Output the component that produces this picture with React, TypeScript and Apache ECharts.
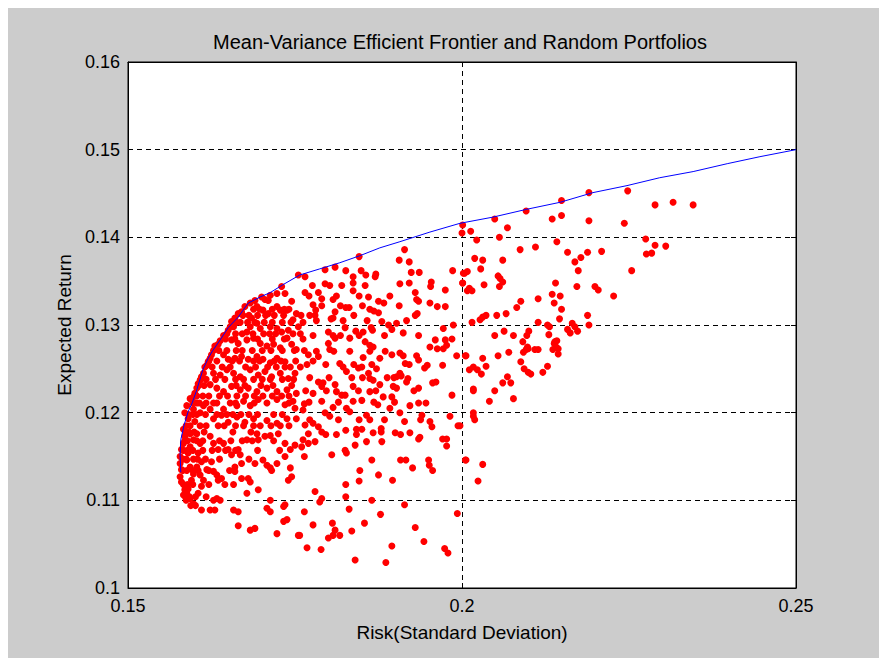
import React, { useEffect, useRef } from "react";
import * as echarts from "echarts";

const xTicks = [0.15, 0.2, 0.25];
const yTicks = [0.1, 0.11, 0.12, 0.13, 0.14, 0.15, 0.16];

const frontierRisk = [0.1579, 0.1578, 0.1579, 0.1584, 0.159, 0.1596, 0.1603, 0.1612, 0.162, 0.1627, 0.1638, 0.165, 0.1665, 0.168, 0.1698, 0.1713, 0.1732, 0.1757, 0.1787, 0.1817, 0.1847, 0.1877, 0.1907, 0.1952, 0.1997, 0.2046, 0.2097, 0.2147, 0.2196, 0.2247, 0.2296, 0.2346, 0.2397, 0.2446, 0.25];
const frontierReturn = [0.1132, 0.1152, 0.1169, 0.1186, 0.1201, 0.1211, 0.1226, 0.1249, 0.1262, 0.1271, 0.1283, 0.1297, 0.1309, 0.1325, 0.1332, 0.1337, 0.1346, 0.1357, 0.1364, 0.1371, 0.1379, 0.1388, 0.1395, 0.1406, 0.1416, 0.1423, 0.1432, 0.144, 0.1451, 0.1459, 0.1468, 0.1475, 0.1484, 0.1492, 0.15];

// random portfolios [risk, expected return], upper right
const portfoliosRight = [
  [0.219, 0.1451], [0.2248, 0.1453], [0.2289, 0.1437], [0.2316, 0.144], [0.2346, 0.1437], [0.2149, 0.1442], [0.2096, 0.143], [0.2049, 0.1421], [0.2135, 0.1421], [0.2149, 0.1425], [0.219, 0.1419], [0.2243, 0.1416],
  [0.2001, 0.1414], [0.2, 0.1405], [0.2013, 0.1407], [0.2068, 0.1411], [0.2022, 0.1397], [0.2056, 0.14], [0.2142, 0.1395], [0.2087, 0.1386], [0.211, 0.1389], [0.2158, 0.1383], [0.2188, 0.1383], [0.2209, 0.1384], [0.2178, 0.1377], [0.2169, 0.1372], [0.2174, 0.1362],
  [0.2275, 0.1398], [0.2289, 0.1391], [0.2276, 0.1381], [0.2284, 0.1382], [0.2305, 0.139], [0.2254, 0.1362], [0.2019, 0.1376], [0.2031, 0.1374], [0.2061, 0.1374], [0.2028, 0.1364], [0.2004, 0.1359], [0.2008, 0.1361], [0.2054, 0.1356], [0.2057, 0.1353],
  [0.2001, 0.1348], [0.2061, 0.1349], [0.2056, 0.1344], [0.2033, 0.1346], [0.2011, 0.1342], [0.2015, 0.1339], [0.2008, 0.1339], [0.2172, 0.1344], [0.2199, 0.1344], [0.2204, 0.134], [0.2227, 0.1333], [0.214, 0.1348], [0.2135, 0.1335], [0.2147, 0.1333],
  [0.2114, 0.133], [0.2088, 0.1327], [0.2082, 0.132], [0.2138, 0.1325], [0.2149, 0.1318], [0.2146, 0.1307], [0.2188, 0.1311], [0.2052, 0.1311], [0.2066, 0.1313], [0.2027, 0.1306], [0.2031, 0.1309], [0.2036, 0.1311], [0.2015, 0.1303], [0.2114, 0.1303],
  [0.2128, 0.13], [0.2131, 0.1298], [0.2165, 0.1302], [0.2169, 0.1298], [0.219, 0.13], [0.2049, 0.1288], [0.2063, 0.1293], [0.2077, 0.1288], [0.21, 0.1293], [0.2097, 0.1288], [0.2091, 0.1281], [0.213, 0.1289], [0.2158, 0.1295], [0.2162, 0.1291], [0.2173, 0.1293],
  [0.2142, 0.1282], [0.2138, 0.1279], [0.2099, 0.1273], [0.2144, 0.1273], [0.2006, 0.1265], [0.2031, 0.1262], [0.2054, 0.1265], [0.207, 0.1269], [0.2092, 0.1269], [0.2096, 0.1272], [0.2098, 0.1275], [0.2109, 0.1272], [0.2114, 0.1272], [0.2139, 0.1281],
  [0.2141, 0.1275], [0.2136, 0.1272], [0.2144, 0.1267], [0.2036, 0.1253], [0.2011, 0.1249], [0.2017, 0.1252], [0.2023, 0.1249], [0.2029, 0.1244], [0.2088, 0.1258], [0.2093, 0.125], [0.2099, 0.1246], [0.2103, 0.1244], [0.2128, 0.1253], [0.2121, 0.1246],
  [0.2068, 0.1241], [0.2061, 0.1234], [0.2073, 0.1234], [0.2017, 0.1227], [0.2017, 0.1225], [0.2049, 0.1225], [0.2041, 0.1213], [0.2077, 0.1216], [0.2017, 0.12], [0.2019, 0.1192], [0.2017, 0.1196], [0.2006, 0.1146], [0.2031, 0.1141], [0.2024, 0.1122], [0.1997, 0.1185],
];

// random portfolios, middle band
const portfoliosMiddle = [
  [0.1846, 0.1378], [0.1914, 0.1386], [0.1906, 0.1374], [0.1921, 0.1372], [0.181, 0.1366], [0.1795, 0.1363], [0.1826, 0.1362], [0.1849, 0.1362], [0.1871, 0.1358], [0.187, 0.1355], [0.1856, 0.1357], [0.1924, 0.136], [0.1936, 0.136], [0.1986, 0.1362], [0.2002, 0.1359],
  [0.1837, 0.1355], [0.1837, 0.1348], [0.1837, 0.1339], [0.1765, 0.1355], [0.1795, 0.1347], [0.182, 0.1345], [0.1907, 0.1347], [0.1921, 0.1348], [0.1954, 0.1349], [0.1953, 0.1344], [0.1975, 0.134], [0.2001, 0.1348], [0.1765, 0.1337], [0.1785, 0.1337],
  [0.193, 0.1337], [0.1932, 0.1329], [0.1935, 0.1327], [0.186, 0.1332], [0.1875, 0.1327], [0.1883, 0.1325], [0.179, 0.133], [0.1807, 0.1329], [0.1952, 0.1325], [0.1963, 0.1321], [0.1975, 0.1321], [0.1777, 0.1323], [0.1781, 0.1317], [0.178, 0.1311], [0.1772, 0.1311],
  [0.1826, 0.132], [0.1831, 0.132], [0.1862, 0.1318], [0.1868, 0.1316], [0.1875, 0.1314], [0.181, 0.1315], [0.1838, 0.1311], [0.1804, 0.1307], [0.1807, 0.1308], [0.193, 0.1311], [0.1933, 0.1313], [0.188, 0.1304], [0.189, 0.13], [0.1895, 0.1295], [0.1902, 0.1302],
  [0.1987, 0.13], [0.1972, 0.1296], [0.1825, 0.1297], [0.1841, 0.1293], [0.1852, 0.1292], [0.1864, 0.1297], [0.1866, 0.1294], [0.1912, 0.1291], [0.18, 0.1292], [0.1807, 0.1288], [0.181, 0.1285], [0.1832, 0.1285], [0.196, 0.1283], [0.1975, 0.1283], [0.1985, 0.1284],
  [0.1977, 0.1277], [0.1972, 0.1273], [0.1952, 0.1275], [0.1963, 0.1273], [0.1855, 0.1281], [0.1862, 0.1277], [0.1867, 0.1275], [0.18, 0.1279], [0.1802, 0.1272], [0.1785, 0.1264], [0.1777, 0.1259], [0.177, 0.1266], [0.1852, 0.1263], [0.1877, 0.1262],
  [0.1895, 0.1266], [0.1907, 0.1268], [0.1912, 0.1265], [0.1915, 0.1256], [0.1932, 0.1265], [0.1935, 0.126], [0.1992, 0.1265], [0.2005, 0.1265], [0.1948, 0.1254], [0.1944, 0.1251], [0.1971, 0.1254], [0.1817, 0.1256], [0.1822, 0.1252], [0.1827, 0.1247],
  [0.1845, 0.1251], [0.185, 0.1252], [0.1872, 0.125], [0.186, 0.1245], [0.1862, 0.1239], [0.1867, 0.1237], [0.1877, 0.1232], [0.1888, 0.124], [0.1902, 0.1241], [0.1907, 0.1245], [0.1909, 0.1242], [0.1919, 0.1239], [0.1897, 0.123], [0.1902, 0.1228],
  [0.1917, 0.1235], [0.1956, 0.1234], [0.1961, 0.1235], [0.1935, 0.1228], [0.1985, 0.122], [0.1837, 0.123], [0.181, 0.1232], [0.1812, 0.1224], [0.182, 0.122], [0.1825, 0.122], [0.1785, 0.1235], [0.179, 0.123], [0.1792, 0.1234], [0.1777, 0.1222], [0.1862, 0.1224],
  [0.1882, 0.1218], [0.1895, 0.1218],
  [0.1764, 0.121], [0.1762, 0.1203], [0.179, 0.1213], [0.1807, 0.1206], [0.1827, 0.1205], [0.1832, 0.1201], [0.1837, 0.1213], [0.185, 0.1214], [0.1874, 0.1209], [0.1892, 0.1205], [0.1907, 0.12], [0.1922, 0.1208], [0.1935, 0.1211], [0.1946, 0.1211],
  [0.194, 0.1197], [0.1938, 0.1192], [0.1952, 0.119], [0.1955, 0.1184], [0.1982, 0.1196], [0.1994, 0.1185], [0.1857, 0.1197], [0.1862, 0.1192], [0.1795, 0.12], [0.1802, 0.1196], [0.1765, 0.1186], [0.1777, 0.1188], [0.1785, 0.1184], [0.179, 0.1178],
  [0.177, 0.1176], [0.1762, 0.1169], [0.177, 0.1165], [0.176, 0.1161], [0.178, 0.1167], [0.1826, 0.118], [0.1842, 0.1181], [0.185, 0.1181], [0.1867, 0.1177], [0.1879, 0.1182], [0.1879, 0.1178], [0.19, 0.1177], [0.1914, 0.119], [0.1922, 0.1177], [0.1935, 0.117],
  [0.1937, 0.1172], [0.1971, 0.117], [0.1977, 0.117], [0.1977, 0.1162], [0.1857, 0.1167], [0.188, 0.1167], [0.184, 0.1163], [0.1825, 0.1157], [0.1827, 0.1154], [0.1805, 0.1152], [0.1764, 0.115], [0.1865, 0.1146], [0.1908, 0.1146], [0.1916, 0.1146],
  [0.195, 0.1146], [0.1951, 0.114], [0.1956, 0.1134], [0.1926, 0.1137], [0.2005, 0.1146], [0.1847, 0.1134], [0.1875, 0.1129], [0.1846, 0.1122], [0.1826, 0.1118], [0.1896, 0.1123], [0.178, 0.111], [0.179, 0.1102], [0.1787, 0.1098], [0.1826, 0.1104],
  [0.1865, 0.11], [0.1914, 0.1095], [0.1993, 0.1085], [0.1831, 0.109], [0.1878, 0.1084], [0.1764, 0.1087], [0.1777, 0.1072], [0.1806, 0.1074], [0.1854, 0.1074], [0.181, 0.1066], [0.1807, 0.106], [0.1817, 0.106], [0.18, 0.1057], [0.1835, 0.1065],
  [0.193, 0.1069], [0.1757, 0.106], [0.1768, 0.1046], [0.1789, 0.1044], [0.1895, 0.1048], [0.1943, 0.1053], [0.1974, 0.1045], [0.1979, 0.104], [0.184, 0.1032], [0.1886, 0.1029],
  [0.1776, 0.1345], [0.1802, 0.1345], [0.1855, 0.1345], [0.1771, 0.1333], [0.1812, 0.1333], [0.1846, 0.1333], [0.1892, 0.1333], [0.179, 0.1322], [0.1818, 0.1322], [0.1851, 0.1322], [0.1906, 0.1322],
  [0.1782, 0.1305], [0.1822, 0.1305], [0.1858, 0.1305], [0.1917, 0.1305], [0.1777, 0.1288], [0.1818, 0.1288], [0.1846, 0.1288], [0.1884, 0.1288], [0.1935, 0.1288],
  [0.1782, 0.127], [0.1808, 0.127], [0.1832, 0.127], [0.1862, 0.127], [0.1885, 0.127], [0.1768, 0.1255], [0.1796, 0.1255], [0.1838, 0.1255], [0.1865, 0.1255], [0.1921, 0.1255],
  [0.1772, 0.124], [0.1801, 0.124], [0.1835, 0.124], [0.1851, 0.124], [0.1898, 0.124], [0.1766, 0.1225], [0.1797, 0.1225], [0.1845, 0.1225], [0.1871, 0.1225], [0.1928, 0.1225],
  [0.1771, 0.1212], [0.1815, 0.1212], [0.1868, 0.1212], [0.1899, 0.1212], [0.1772, 0.1192], [0.1815, 0.1192], [0.1846, 0.1192], [0.1884, 0.1192], [0.1796, 0.1175], [0.1812, 0.1175], [0.1842, 0.1175], [0.1908, 0.1175],
];

// random portfolios, dense cluster near the minimum-variance end
const portfoliosLeft = [
  [0.1755, 0.1357], [0.173, 0.1344], [0.1735, 0.1336], [0.1723, 0.1336], [0.1713, 0.1334], [0.171, 0.1328], [0.1705, 0.1329], [0.17, 0.1332], [0.169, 0.1328], [0.1683, 0.1325], [0.1693, 0.1321], [0.1675, 0.1321], [0.167, 0.1315], [0.1665, 0.1313],
  [0.1723, 0.1321], [0.1728, 0.1317], [0.1738, 0.1317], [0.1745, 0.1327], [0.1702, 0.1317], [0.171, 0.1313], [0.1752, 0.1313], [0.1747, 0.1306], [0.166, 0.1308], [0.1655, 0.1304], [0.1653, 0.1298], [0.165, 0.1294], [0.1658, 0.1298],
  [0.1685, 0.1308], [0.1693, 0.1302], [0.1698, 0.1296], [0.1683, 0.1298], [0.1678, 0.1292], [0.1713, 0.1298], [0.1723, 0.1296], [0.173, 0.1292], [0.174, 0.1294], [0.1738, 0.1285], [0.1755, 0.1298], [0.1643, 0.1288], [0.1638, 0.1282], [0.1635, 0.1278], [0.163, 0.1276],
  [0.1655, 0.1283], [0.1665, 0.1279], [0.1678, 0.1283], [0.1688, 0.1285], [0.1698, 0.1279], [0.1708, 0.1276], [0.1718, 0.1278], [0.1728, 0.1274], [0.1745, 0.1278], [0.1752, 0.1272], [0.1625, 0.1266], [0.1623, 0.1262], [0.162, 0.1258], [0.1618, 0.1254],
  [0.1643, 0.1266], [0.165, 0.1261], [0.166, 0.1262], [0.167, 0.1264], [0.168, 0.1261], [0.1693, 0.1264], [0.1702, 0.1261], [0.1713, 0.1257], [0.1723, 0.1262], [0.1735, 0.1258], [0.1743, 0.1252], [0.1613, 0.1245], [0.161, 0.1241], [0.1608, 0.1237], [0.1605, 0.1233],
  [0.1603, 0.1228], [0.16, 0.1222], [0.1598, 0.1218], [0.1628, 0.1245], [0.1638, 0.1243], [0.1648, 0.1249], [0.1658, 0.1245], [0.1668, 0.1241], [0.1683, 0.1249], [0.1695, 0.1243], [0.1705, 0.1247], [0.1715, 0.1241], [0.1728, 0.1245], [0.174, 0.1239], [0.175, 0.1245],
  [0.1623, 0.1232], [0.1633, 0.1228], [0.1643, 0.1224], [0.1655, 0.123], [0.1668, 0.1226], [0.168, 0.1228], [0.1693, 0.1224], [0.1708, 0.1228], [0.1723, 0.1224], [0.1738, 0.1226], [0.1752, 0.1222],
  [0.1593, 0.1216], [0.1588, 0.1208], [0.1585, 0.12], [0.159, 0.1193], [0.1598, 0.1204], [0.1603, 0.1211], [0.1608, 0.12], [0.1613, 0.1208], [0.16, 0.119], [0.1583, 0.1181], [0.1585, 0.1173], [0.1583, 0.1165], [0.158, 0.1158], [0.1578, 0.115], [0.1578, 0.1142],
  [0.158, 0.1135], [0.1578, 0.1127], [0.158, 0.1121], [0.1593, 0.1176], [0.1598, 0.1169], [0.1593, 0.1161], [0.159, 0.1154], [0.1588, 0.1146], [0.1593, 0.1138], [0.1598, 0.113], [0.1595, 0.1123], [0.159, 0.1113], [0.1588, 0.1108], [0.1593, 0.1102], [0.1598, 0.1096],
  [0.1585, 0.1112], [0.1583, 0.1106], [0.1587, 0.11], [0.1603, 0.1176], [0.1608, 0.1165], [0.1605, 0.1154], [0.161, 0.1144], [0.1603, 0.1138], [0.1608, 0.1129], [0.1613, 0.1123], [0.161, 0.1116], [0.1605, 0.1108],
  [0.1623, 0.1204], [0.1633, 0.1211], [0.1643, 0.1204], [0.1653, 0.1211], [0.1663, 0.1208], [0.1673, 0.1213], [0.1683, 0.1208], [0.1695, 0.1215], [0.1708, 0.1211], [0.1723, 0.1215], [0.1735, 0.1209], [0.1747, 0.1213],
  [0.1628, 0.1193], [0.164, 0.1197], [0.165, 0.1189], [0.1663, 0.1195], [0.1675, 0.1189], [0.1688, 0.1193], [0.1698, 0.1185], [0.1708, 0.1191], [0.1723, 0.1188], [0.1738, 0.1193], [0.175, 0.1205], [0.1752, 0.1193],
  [0.1623, 0.1173], [0.1628, 0.1165], [0.1635, 0.1158], [0.1643, 0.1165], [0.165, 0.1158], [0.1655, 0.1152], [0.1665, 0.1158], [0.1678, 0.1169], [0.1668, 0.1152], [0.1693, 0.1176], [0.1695, 0.1169], [0.1705, 0.1173], [0.1713, 0.1174], [0.1725, 0.1176],
  [0.1735, 0.1165], [0.1743, 0.1158], [0.175, 0.1163], [0.1625, 0.1144], [0.1618, 0.1135], [0.1628, 0.1133], [0.1633, 0.1129], [0.1635, 0.1123], [0.164, 0.1125], [0.1645, 0.1118], [0.166, 0.1138], [0.166, 0.1133], [0.167, 0.1142], [0.167, 0.1125], [0.168, 0.1125],
  [0.1683, 0.1121], [0.1678, 0.1108], [0.1695, 0.1112], [0.169, 0.1142], [0.1702, 0.1146], [0.1708, 0.114], [0.1713, 0.1137], [0.1723, 0.1142], [0.1735, 0.115], [0.1743, 0.1137], [0.1745, 0.1127], [0.174, 0.1123], [0.1638, 0.11], [0.1633, 0.1102], [0.1628, 0.11],
  [0.161, 0.1089], [0.1623, 0.1089], [0.163, 0.1089], [0.1658, 0.1089], [0.1665, 0.1087], [0.1713, 0.11], [0.1708, 0.1091], [0.1713, 0.1087], [0.1735, 0.1095], [0.1733, 0.1093], [0.1665, 0.1071], [0.1683, 0.1066], [0.169, 0.1068], [0.1738, 0.1078], [0.1733, 0.1076],
  [0.1723, 0.1062], [0.1755, 0.106],
];

// more of the dense cluster, read row by row
const portfoliosCluster = [
  [0.1688, 0.1318], [0.1697, 0.1318], [0.1716, 0.1318], [0.1734, 0.1318], [0.1741, 0.1318],
  [0.1672, 0.1311], [0.1681, 0.1311], [0.1694, 0.1311], [0.1706, 0.1311], [0.1719, 0.1311], [0.1733, 0.1311], [0.1759, 0.1311],
  [0.1662, 0.1303], [0.1668, 0.1303], [0.1679, 0.1303], [0.169, 0.1303], [0.1704, 0.1303], [0.1716, 0.1303], [0.1731, 0.1303], [0.1744, 0.1303], [0.1762, 0.1303],
  [0.1648, 0.129], [0.1661, 0.129], [0.1671, 0.129], [0.1687, 0.129], [0.1703, 0.129], [0.1712, 0.129], [0.1721, 0.129], [0.1747, 0.129], [0.1758, 0.129],
  [0.1646, 0.1284], [0.166, 0.1284], [0.1694, 0.1284], [0.1716, 0.1284], [0.1734, 0.1284], [0.1762, 0.1284],
  [0.1628, 0.1271], [0.1636, 0.1271], [0.1648, 0.1271], [0.1662, 0.1271], [0.1671, 0.1271], [0.1686, 0.1271], [0.1701, 0.1271], [0.1714, 0.1271], [0.1731, 0.1271], [0.1749, 0.1271], [0.1764, 0.1271],
  [0.1621, 0.1259], [0.1633, 0.1259], [0.1656, 0.1259], [0.1667, 0.1259], [0.1688, 0.1259], [0.1697, 0.1259], [0.1719, 0.1259], [0.1729, 0.1259], [0.1751, 0.1259],
  [0.1615, 0.1252], [0.1626, 0.1252], [0.1641, 0.1252], [0.1653, 0.1252], [0.1676, 0.1252], [0.1691, 0.1252], [0.1709, 0.1252], [0.1722, 0.1252], [0.1735, 0.1252], [0.1758, 0.1252],
  [0.1609, 0.1238], [0.1617, 0.1238], [0.1631, 0.1238], [0.1645, 0.1238], [0.1661, 0.1238], [0.1673, 0.1238], [0.1688, 0.1238], [0.1701, 0.1238], [0.1713, 0.1238], [0.1731, 0.1238], [0.1748, 0.1238],
  [0.1606, 0.1231], [0.1614, 0.1231], [0.1662, 0.1231], [0.1675, 0.1231], [0.1699, 0.1231], [0.1717, 0.1231], [0.1745, 0.1231],
  [0.1603, 0.1219], [0.1612, 0.1219], [0.1621, 0.1219], [0.1637, 0.1219], [0.1649, 0.1219], [0.1663, 0.1219], [0.1676, 0.1219], [0.1689, 0.1219], [0.1702, 0.1219], [0.1716, 0.1219], [0.173, 0.1219], [0.1741, 0.1219],
  [0.1597, 0.1211], [0.1607, 0.1211], [0.1617, 0.1211], [0.1628, 0.1211], [0.1661, 0.1211], [0.1689, 0.1211], [0.1741, 0.1211],
  [0.1591, 0.1198], [0.1597, 0.1198], [0.1603, 0.1198], [0.1616, 0.1198], [0.1633, 0.1198], [0.1648, 0.1198], [0.1657, 0.1198], [0.1669, 0.1198], [0.1681, 0.1198], [0.1694, 0.1198], [0.1718, 0.1198], [0.1731, 0.1198],
  [0.1587, 0.1185], [0.1593, 0.1185], [0.1608, 0.1185], [0.1617, 0.1185], [0.1635, 0.1185], [0.1644, 0.1185], [0.1661, 0.1185], [0.1673, 0.1185], [0.1688, 0.1185], [0.1714, 0.1185], [0.1728, 0.1185], [0.1741, 0.1185],
  [0.1586, 0.1178], [0.1591, 0.1178], [0.1599, 0.1178], [0.1614, 0.1178], [0.1657, 0.1178], [0.1684, 0.1178],
  [0.1585, 0.1168], [0.1589, 0.1168], [0.1603, 0.1168], [0.1612, 0.1168], [0.1637, 0.1168], [0.1654, 0.1168], [0.1671, 0.1168], [0.1686, 0.1168], [0.1718, 0.1168],
  [0.1583, 0.1157], [0.1589, 0.1157], [0.1597, 0.1157], [0.1612, 0.1157], [0.1626, 0.1157], [0.1646, 0.1157], [0.1661, 0.1157], [0.1694, 0.1157], [0.1727, 0.1157],
  [0.1582, 0.1147], [0.1587, 0.1147], [0.1598, 0.1147], [0.1604, 0.1147], [0.1616, 0.1147], [0.1637, 0.1147], [0.1681, 0.1147],
  [0.1582, 0.1134], [0.1588, 0.1134], [0.1597, 0.1134], [0.1605, 0.1134], [0.1621, 0.1134], [0.1652, 0.1134], [0.1715, 0.1134],
  [0.1583, 0.1118], [0.1589, 0.1118], [0.1597, 0.1118], [0.1621, 0.1118], [0.1658, 0.1118],
  [0.1586, 0.1104], [0.1592, 0.1104], [0.1601, 0.1104], [0.1617, 0.1104], [0.1594, 0.1094], [0.1601, 0.1094],
];

const FONT = "'Liberation Sans', Arial, Helvetica, sans-serif";

export default function App() {
  const ref = useRef<HTMLDivElement>(null);
  useEffect(() => {
    if (!ref.current) return;
    const chart = echarts.init(ref.current, undefined, { renderer: "svg" });
    const axisCommon = {
      axisLine: { show: true, lineStyle: { color: "#000", width: 1 } },
      axisTick: { show: true, inside: true, length: 5, lineStyle: { color: "#000" } },
    };
    chart.setOption({
      animation: false,
      backgroundColor: "#cccccc",
      title: {
        text: "Mean-Variance Efficient Frontier and Random Portfolios",
        left: 447,
        textAlign: "center",
        top: 19,
        textStyle: { fontFamily: FONT, fontSize: 20, fontWeight: "normal", color: "#000" },
      },
      grid: { left: 120, right: 83, top: 54, bottom: 70, show: true, backgroundColor: "#fff", borderColor: "#000", borderWidth: 1 },
      xAxis: [
        {
          type: "value",
          min: xTicks[0],
          max: xTicks[xTicks.length - 1],
          interval: 0.05,
          name: "Risk(Standard Deviation)",
          nameLocation: "middle",
          nameGap: 35,
          nameTextStyle: { fontFamily: FONT, fontSize: 19, color: "#000" },
          ...axisCommon,
          axisLabel: { fontFamily: FONT, fontSize: 18, color: "#000", margin: 9 },
          splitLine: { show: true, lineStyle: { color: "#000", type: [5, 4], width: 1 } },
        },
        {
          type: "value",
          position: "top",
          min: xTicks[0],
          max: xTicks[xTicks.length - 1],
          interval: 0.05,
          ...axisCommon,
          axisLabel: { show: false },
          splitLine: { show: false },
        },
      ],
      yAxis: [
        {
          type: "value",
          min: yTicks[0],
          max: yTicks[yTicks.length - 1],
          interval: 0.01,
          name: "Expected Return",
          nameLocation: "middle",
          nameGap: 53,
          nameTextStyle: { fontFamily: FONT, fontSize: 19, color: "#000" },
          ...axisCommon,
          axisLabel: { fontFamily: FONT, fontSize: 18, color: "#000", margin: 8 },
          splitLine: { show: true, lineStyle: { color: "#000", type: [5, 4], width: 1 } },
        },
        {
          type: "value",
          position: "right",
          min: yTicks[0],
          max: yTicks[yTicks.length - 1],
          interval: 0.01,
          ...axisCommon,
          axisLabel: { show: false },
          splitLine: { show: false },
        },
      ],
      series: [
        {
          type: "scatter",
          data: [...portfoliosLeft, ...portfoliosCluster, ...portfoliosMiddle, ...portfoliosRight],
          symbol: "circle",
          symbolSize: 7,
          itemStyle: { color: "#ff0000", opacity: 1 },
        },
        {
          type: "line",
          data: frontierRisk.map((r, i) => [r, frontierReturn[i]]),
          showSymbol: false,
          symbol: "none",
          lineStyle: { color: "#0000ff", width: 1 },
          z: 3,
        },
      ],
    });
    return () => chart.dispose();
  }, []);
  return (
    <div
      ref={ref}
      style={{ position: "absolute", left: 8, top: 8, width: 871, height: 650 }}
    />
  );
}
